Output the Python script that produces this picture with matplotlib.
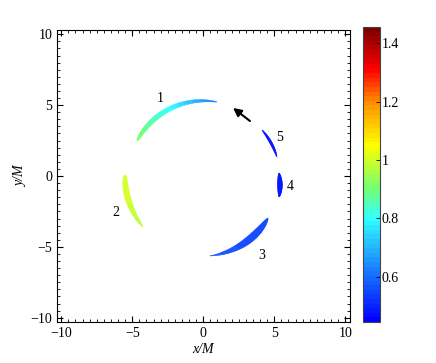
""" Hot spot images around the black hole, coloured by redshift g """

import matplotlib
matplotlib.use('Agg')
import matplotlib.pyplot as plt
from matplotlib.collections import PolyCollection
from matplotlib.colors import LinearSegmentedColormap
from matplotlib.ticker import MultipleLocator, FormatStrFormatter
import numpy as np

plt.rcParams['font.family'] = ['Liberation Serif', 'DejaVu Serif']
plt.rcParams['font.size'] = 10

# image parameters (polar, centred on the hole)
labels = ['1', '2', '3', '4', '5']
theta_start = [152.1, 179.3, -85.2, 2.3, 38.1]     # deg
theta_end = [79.5, 220.3, -33.0, -15.5, 14.5]      # deg
r_start = [5.28, 5.51, 5.66, 5.34, 5.26]
r_end = [5.31, 5.56, 5.44, 5.54, 5.36]
thick = [0.34, 0.40, 0.50, 0.34, 0.17]             # max width in M
peak = [0.35, 0.35, 0.65, 0.5, 0.5]                # where the image is widest
g_start = [0.92, 1.01, 0.58, 0.48, 0.48]           # redshift at first end
g_mid = [0.80, 1.00, 0.55, 0.48, 0.48]
g_end = [0.61, 0.97, 0.55, 0.48, 0.48]             # redshift at other end

label_x = [-3.05, -6.14, 4.14, 6.11, 5.34]
label_y = [5.50, -2.54, -5.64, -0.71, 2.75]

arrow_tail = (3.29, 3.88)
arrow_head = (2.10, 4.80)

g_min, g_max = 0.445, 1.456

# jet-like map, but starting from full blue
cmap_pos = [0.0, 0.35, 0.45, 0.6, 0.75, 0.86, 1.0]
cmap_col = [(0, 0, 1), (0.2, 1, 1), (0.45, 1, 0.45), (1, 1, 0),
            (1, 0.55, 0), (1, 0, 0), (0.5, 0, 0)]
cmap = LinearSegmentedColormap.from_list('g', list(zip(cmap_pos, cmap_col)), N=64)

fig = plt.figure(figsize=(4.36, 3.63), dpi=100)
ax = fig.add_axes([57/436, 1 - 322/363, 292.5/436, 292/363])
cax = fig.add_axes([363/436, 1 - 322/363, 17/436, 295/363])

n = 60
polys = []
gvals = []
for i in range(len(labels)):
    t = np.linspace(0, 1, n + 1)
    th = np.radians(theta_start[i] + (theta_end[i] - theta_start[i]) * t)
    r = r_start[i] + (r_end[i] - r_start[i]) * t
    # tapered width, widest at peak[i]
    tt = t ** (np.log(0.5) / np.log(peak[i]))
    w = thick[i] * np.sin(np.pi * tt) ** 0.6
    xin, yin = (r - w/2) * np.cos(th), (r - w/2) * np.sin(th)
    xout, yout = (r + w/2) * np.cos(th), (r + w/2) * np.sin(th)
    gs = np.interp(t, [0, 0.5, 1], [g_start[i], g_mid[i], g_end[i]])
    for k in range(n):
        polys.append([(xin[k], yin[k]), (xout[k], yout[k]),
                      (xout[k+1], yout[k+1]), (xin[k+1], yin[k+1])])
        gvals.append(0.5 * (gs[k] + gs[k+1]))

pc = PolyCollection(polys, cmap=cmap, edgecolors='face', linewidths=0.3)
pc.set_array(np.array(gvals))
pc.set_clim(g_min, g_max)
ax.add_collection(pc)

for i in range(len(labels)):
    ax.text(label_x[i], label_y[i], labels[i], ha='center', va='center', fontsize=10)

ax.annotate('', xy=arrow_head, xytext=arrow_tail,
            arrowprops=dict(arrowstyle='-|>', color='black', lw=1.5,
                            mutation_scale=12, shrinkA=0, shrinkB=0))

ax.set_xlim(-10.3, 10.3)
ax.set_ylim(-10.3, 10.3)
ax.set_xticks([-10, -5, 0, 5, 10])
ax.set_yticks([-10, -5, 0, 5, 10])
ax.xaxis.set_minor_locator(MultipleLocator(0.5))
ax.yaxis.set_minor_locator(MultipleLocator(0.5))
ax.tick_params(which='both', direction='in', top=True, right=True)
ax.tick_params(which='major', length=4, width=0.8)
ax.tick_params(which='minor', length=2, width=0.6)
ax.set_xlabel('x/M', fontstyle='italic', labelpad=2)
ax.set_ylabel('y/M', fontstyle='italic', labelpad=2)

cb = fig.colorbar(pc, cax=cax)
cb.set_ticks([0.6, 0.8, 1.0, 1.2, 1.4])
cb.ax.yaxis.set_major_formatter(FormatStrFormatter('%g'))
cb.ax.tick_params(direction='in', length=3, width=0.6, pad=1)
cb.outline.set_linewidth(0.8)
cb.outline.set_edgecolor('#444444')

fig.savefig('out.png', dpi=100)
